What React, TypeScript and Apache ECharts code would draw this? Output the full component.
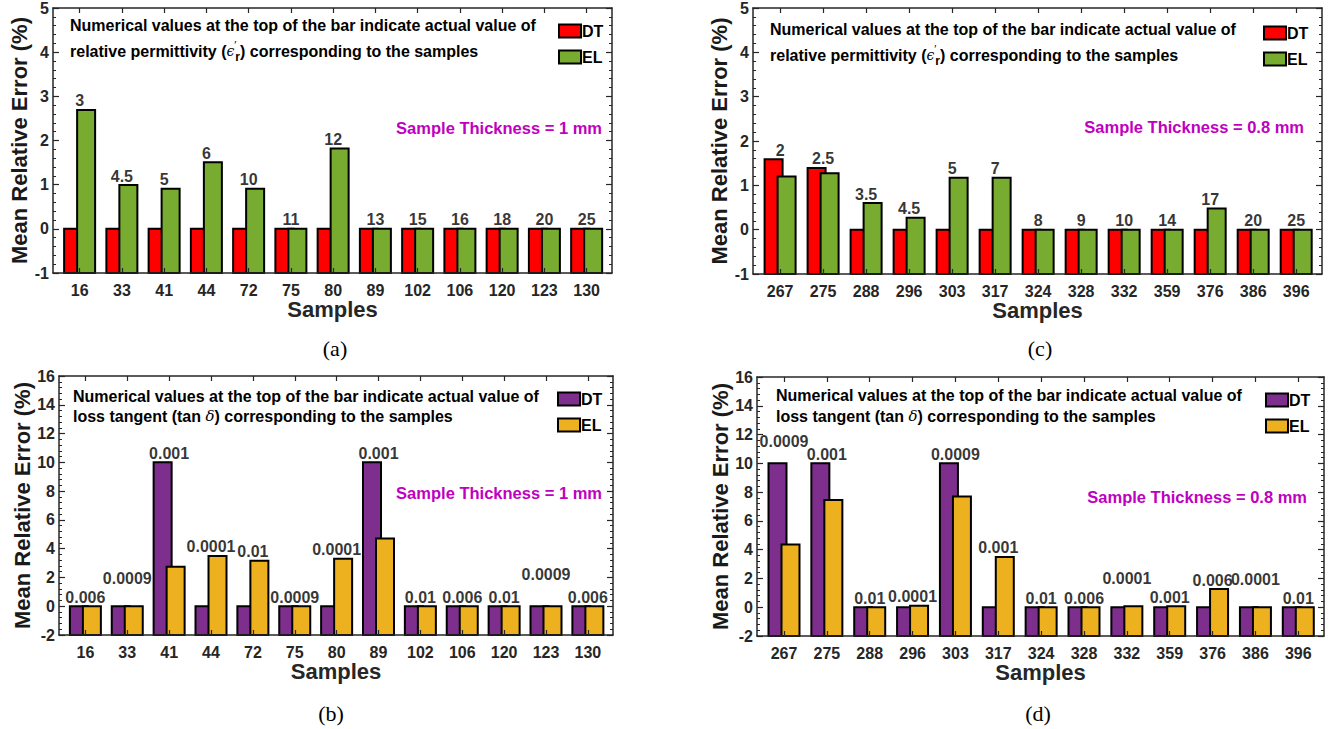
import { useEffect, useRef } from 'react';
import * as echarts from 'echarts';

// ---------- data ----------
const samples1 = ['16', '33', '41', '44', '72', '75', '80', '89', '102', '106', '120', '123', '130'];
const samples2 = ['267', '275', '288', '296', '303', '317', '324', '328', '332', '359', '376', '386', '396'];

// (a) relative permittivity, 1 mm
const permDT1 = [0, 0, 0, 0, 0, 0, 0, 0, 0, 0, 0, 0, 0];
const permEL1 = [2.69, 0.99, 0.91, 1.51, 0.91, 0, 1.82, 0, 0, 0, 0, 0, 0];
const permLabels1 = ['3', '4.5', '5', '6', '10', '11', '12', '13', '15', '16', '18', '20', '25'];

// (c) relative permittivity, 0.8 mm
const permDT2 = [1.59, 1.39, 0, 0, 0, 0, 0, 0, 0, 0, 0, 0, 0];
const permEL2 = [1.2, 1.27, 0.6, 0.27, 1.17, 1.17, 0, 0, 0, 0, 0.48, 0, 0];
const permLabels2 = ['2', '2.5', '3.5', '4.5', '5', '7', '8', '9', '10', '14', '17', '20', '25'];

// (b) loss tangent, 1 mm
const lossDT1 = [0, 0, 10, 0, 0, 0, 0, 10, 0, 0, 0, 0, 0];
const lossEL1 = [0, 0, 2.74, 3.49, 3.16, 0, 3.3, 4.7, 0, 0, 0, 0, 0];
const lossLabels1 = ['0.006', '0.0009', '0.001', '0.0001', '0.01', '0.0009', '0.0001', '0.001', '0.01', '0.006', '0.01', '0.0009', '0.006'];

// (d) loss tangent, 0.8 mm
const lossDT2 = [10, 10, 0, 0, 10, 0, 0, 0, 0, 0, 0, 0, 0];
const lossEL2 = [4.36, 7.46, 0, 0.1, 7.69, 3.49, 0, 0, 0.07, 0.07, 1.26, 0, 0];
const lossLabels2 = ['0.0009', '0.001', '0.01', '0.0001', '0.0009', '0.001', '0.01', '0.006', '0.0001', '0.001', '0.006', '0.0001', '0.01'];

const permY = { min: -1, max: 5, step: 1 };
const lossY = { min: -2, max: 16, step: 2 };

// ---------- styling ----------
const FONT = '"Liberation Sans", Arial, Helvetica, sans-serif';
const AX = '#262626';
const MAGENTA = '#BF00BF';

const panels = [
  {
    key: 'a', samples: samples1, dt: permDT1, el: permEL1, labels: permLabels1, y: permY,
    colors: ['#FF0000', '#77AC30'], tag: 'perm',
    grid: { left: 53, top: 7, width: 559, height: 266 },
    legend: { left: 558, top: 23 },
    note: { x: 70, y1: 25, y2: 51 }, noteKind: 'perm',
    thick: { text: 'Sample Thickness = 1 mm', x: 602, y: 128 },
    caption: { text: '(a)', x: 335, y: 348 },
    lifts: {} as Record<number, number>,
  },
  {
    key: 'c', samples: samples2, dt: permDT2, el: permEL2, labels: permLabels2, y: permY,
    colors: ['#FF0000', '#77AC30'], tag: 'perm',
    grid: { left: 753, top: 8, width: 569, height: 266 },
    legend: { left: 1263, top: 25 },
    note: { x: 770, y1: 29, y2: 55 }, noteKind: 'perm',
    thick: { text: 'Sample Thickness = 0.8 mm', x: 1304, y: 127 },
    caption: { text: '(c)', x: 1040, y: 348 },
    lifts: {} as Record<number, number>,
  },
  {
    key: 'b', samples: samples1, dt: lossDT1, el: lossEL1, labels: lossLabels1, y: lossY,
    colors: ['#7E2F8E', '#EDB120'], tag: 'loss',
    grid: { left: 59, top: 376, width: 554, height: 259 },
    legend: { left: 557, top: 391 },
    note: { x: 73, y1: 396, y2: 416 }, noteKind: 'loss',
    thick: { text: 'Sample Thickness = 1 mm', x: 602, y: 493 },
    caption: { text: '(b)', x: 331, y: 713 },
    lifts: { 1: 19, 11: 23 } as Record<number, number>,
  },
  {
    key: 'd', samples: samples2, dt: lossDT2, el: lossEL2, labels: lossLabels2, y: lossY,
    colors: ['#7E2F8E', '#EDB120'], tag: 'loss',
    grid: { left: 757, top: 377, width: 567, height: 259 },
    legend: { left: 1265, top: 392 },
    note: { x: 776, y1: 395, y2: 416 }, noteKind: 'loss',
    thick: { text: 'Sample Thickness = 0.8 mm', x: 1307, y: 497 },
    caption: { text: '(d)', x: 1038, y: 713 },
    lifts: { 0: 13, 8: 19, 11: 19 } as Record<number, number>,
  },
];

const X_MIN = 0.37;
const X_MAX = 13.6;
const BAR_W = 18;
const BAR_OFF = 6.5;

function buildOption() {
  const grids: any[] = [];
  const xAxes: any[] = [];
  const yAxes: any[] = [];
  const series: any[] = [];
  const legends: any[] = [];
  const graphics: any[] = [];

  panels.forEach((p, g) => {
    grids.push({ ...p.grid, containLabel: false });
    const idx = p.samples.map((_, i) => i + 1);
    const commonX = {
      gridIndex: g, type: 'value', min: X_MIN, max: X_MAX, z: 5,
      splitLine: { show: false },
      axisLine: { show: true, onZero: false, lineStyle: { color: AX, width: 1.5 } },
    };
    xAxes.push({
      ...commonX, position: 'bottom',
      name: 'Samples', nameLocation: 'middle', nameGap: 24,
      nameTextStyle: { fontFamily: FONT, fontWeight: 'bold', fontSize: 22, color: AX },
      axisTick: { show: true, inside: true, length: 5, customValues: idx, lineStyle: { color: AX, width: 1.2 } },
      axisLabel: {
        show: true, customValues: idx, margin: 9,
        fontFamily: FONT, fontWeight: 'bold', fontSize: 16, color: AX,
        formatter: (v: number) => p.samples[Math.round(v) - 1] ?? '',
      },
    });
    xAxes.push({
      ...commonX, position: 'top',
      axisTick: { show: true, inside: true, length: 5, customValues: idx, lineStyle: { color: AX, width: 1.2 } },
      axisLabel: { show: false },
    });
    const commonY = {
      gridIndex: g, type: 'value', min: p.y.min, max: p.y.max, interval: p.y.step, z: 5,
      splitLine: { show: false },
      axisLine: { show: true, onZero: false, lineStyle: { color: AX, width: 1.5 } },
      axisTick: { show: true, inside: true, length: 6, lineStyle: { color: AX, width: 1.2 } },
      minorTick: { show: true, splitNumber: 5, length: 3, lineStyle: { color: AX, width: 1 } },
    };
    yAxes.push({
      ...commonY, position: 'left',
      name: 'Mean Relative Error (%)', nameLocation: 'middle', nameGap: 23,
      nameTextStyle: { fontFamily: FONT, fontWeight: 'bold', fontSize: 22, color: '#1a1a1a' },
      axisLabel: { show: true, margin: 4, fontFamily: FONT, fontWeight: 'bold', fontSize: 16, color: AX },
    });
    yAxes.push({ ...commonY, position: 'right', axisLabel: { show: false } });

    const names = ['DT|' + p.tag, 'EL|' + p.tag];
    [p.dt, p.el].forEach((vals, s) => {
      const color = p.colors[s];
      const off = s === 0 ? -BAR_OFF : BAR_OFF;
      const yMin = p.y.min;
      series.push({
        type: 'custom', name: names[s], xAxisIndex: 2 * g, yAxisIndex: 2 * g,
        data: vals.map((v, i) => [i + 1, v]),
        encode: { x: 0, y: 1 },
        itemStyle: { color, borderColor: '#000', borderWidth: 2 },
        z: 2 + s,
        renderItem: (_params: any, api: any) => {
          const x = api.value(0);
          const v = api.value(1);
          const top = api.coord([x, v]);
          const base = api.coord([x, yMin]);
          return {
            type: 'rect',
            shape: { x: top[0] + off - BAR_W / 2, y: top[1], width: BAR_W, height: base[1] - top[1] },
            style: { fill: color, stroke: '#000', lineWidth: 2 },
          };
        },
      });
    });

    // value labels over each group
    series.push({
      type: 'scatter', name: 'labels-' + p.key, xAxisIndex: 2 * g, yAxisIndex: 2 * g,
      symbolSize: 0.1, itemStyle: { color: 'rgba(0,0,0,0)' }, z: 6, silent: true,
      data: p.labels.map((t, i) => ({
        value: [i + 1, Math.max(p.dt[i], p.el[i])],
        label: { offset: [0, -(p.lifts[i] || 0)] },
      })),
      label: {
        show: true, position: 'top', distance: 1,
        fontFamily: FONT, fontWeight: 'bold', fontSize: 16, color: '#000',
        formatter: (prm: any) => p.labels[prm.dataIndex],
      },
    });

    legends.push({
      data: names, orient: 'vertical', left: p.legend.left, top: p.legend.top,
      itemWidth: 22, itemHeight: 13, itemGap: 10, padding: 0, icon: 'rect',
      itemStyle: { borderColor: '#000', borderWidth: 2 },
      textStyle: { fontFamily: FONT, fontWeight: 'bold', fontSize: 16, color: '#000', padding: [0, 0, 0, -4] },
      formatter: (n: string) => n.split('|')[0],
      selectedMode: false,
    });

    // annotation
    graphics.push({
      type: 'text', x: p.note.x, y: p.note.y1, z: 10,
      style: {
        text: 'Numerical values at the top of the bar indicate actual value of',
        font: `bold 16px ${FONT}`, fill: '#000', verticalAlign: 'middle',
      },
    });
    if (p.noteKind === 'perm') {
      graphics.push({
        type: 'text', x: p.note.x, y: p.note.y2, z: 10,
        style: {
          text: 'relative permittivity ({eps|ϵ}{pr|′}{sub|r}) corresponding to the samples',
          font: `bold 16px ${FONT}`, fill: '#000', verticalAlign: 'middle',
          rich: {
            eps: { fontFamily: '"DejaVu Serif", serif', fontStyle: 'italic', fontWeight: 'normal', fontSize: 14, fill: '#000' },
            pr: { fontFamily: FONT, fontWeight: 'normal', fontSize: 11, width: 1, padding: [0, 0, 12, 0], fill: '#000' },
            sub: { fontFamily: FONT, fontWeight: 'bold', fontSize: 12, padding: [12, 0, 0, 0], fill: '#000' },
          },
        },
      });
    } else {
      graphics.push({
        type: 'text', x: p.note.x, y: p.note.y2, z: 10,
        style: {
          text: 'loss tangent (tan {d|δ}) corresponding to the samples',
          font: `bold 16px ${FONT}`, fill: '#000', verticalAlign: 'middle',
          rich: {
            d: { fontFamily: '"DejaVu Serif", serif', fontStyle: 'italic', fontWeight: 'normal', fontSize: 15, fill: '#000' },
          },
        },
      });
    }
    graphics.push({
      type: 'text', x: p.thick.x, y: p.thick.y, z: 10,
      style: {
        text: p.thick.text, font: `bold 16.5px ${FONT}`, fill: MAGENTA,
        align: 'right', verticalAlign: 'middle',
      },
    });
    graphics.push({
      type: 'text', x: p.caption.x, y: p.caption.y, z: 10,
      style: {
        text: p.caption.text, font: `22px "Liberation Serif", "Times New Roman", serif`, fill: '#000',
        align: 'center', verticalAlign: 'middle',
      },
    });
  });

  return {
    animation: false,
    backgroundColor: '#ffffff',
    grid: grids,
    xAxis: xAxes,
    yAxis: yAxes,
    legend: legends,
    series,
    graphic: graphics,
  };
}

export default function App() {
  const ref = useRef<HTMLDivElement>(null);
  useEffect(() => {
    if (!ref.current) return;
    const chart = echarts.init(ref.current, undefined, { renderer: 'svg' });
    chart.setOption(buildOption() as any);
    return () => chart.dispose();
  }, []);
  return (
    <div
      ref={ref}
      style={{ position: 'fixed', left: 0, top: 0, width: 1340, height: 729, background: '#fff' }}
    />
  );
}
